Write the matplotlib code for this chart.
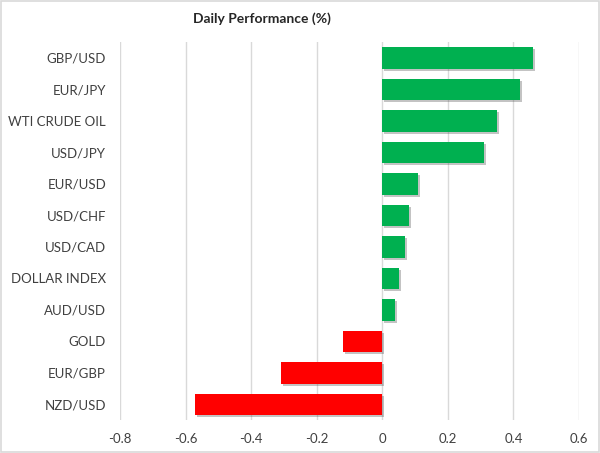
import numpy as np
import matplotlib.pyplot as plt
import matplotlib.patheffects as pe

labels = ["GBP/USD", "EUR/JPY", "WTI CRUDE OIL", "USD/JPY", "EUR/USD", "USD/CHF",
          "USD/CAD", "DOLLAR INDEX", "AUD/USD", "GOLD", "EUR/GBP", "NZD/USD"]
values = [0.46, 0.42, 0.35, 0.31, 0.11, 0.08, 0.07, 0.05, 0.04, -0.12, -0.31, -0.57]
xticks = [-0.8, -0.6, -0.4, -0.2, 0, 0.2, 0.4, 0.6]

plt.rcParams['font.family'] = ['Lato', 'DejaVu Sans']

fig = plt.figure(figsize=(6, 4.53), dpi=100)
ax = fig.add_axes([0.2, 0.0728, 0.765, 0.834])

y = np.arange(len(labels))
colors = ["#00B050" if v >= 0 else "#FF0000" for v in values]
bars = ax.barh(y, values, height=0.68, color=colors, zorder=3)
for b in bars:
    b.set_path_effects([pe.SimplePatchShadow(offset=(1.5, -1.5), alpha=0.35, shadow_rgbFace="#555555"),
                        pe.Normal()])

ax.set_ylim(len(labels) - 0.5, -0.5)
ax.set_xlim(-0.8, 0.6)
ax.set_xticks(xticks)
ax.set_xticklabels(["0" if t == 0 else f"{t:g}" for t in xticks])
ax.set_yticks(y)
ax.set_yticklabels(labels)
ax.tick_params(axis="both", length=0, colors="#404040")
ax.tick_params(axis="y", pad=10, labelsize=9.5)
ax.tick_params(axis="x", pad=9, labelsize=9.5)
ax.grid(axis="x", color="#d9d9d9", linewidth=1, zorder=0)
for s in ax.spines.values():
    s.set_visible(False)

fig.text(0.437, 0.958, "Daily Performance (%)", ha="center", va="center",
         fontsize=10, fontweight="bold", color="#262626")

fig.patches.append(plt.Rectangle((0.002, 0.002), 0.996, 0.996, transform=fig.transFigure,
                                 fill=False, edgecolor="#d9d9d9", linewidth=1.2))

fig.savefig("out.png", dpi=100)
